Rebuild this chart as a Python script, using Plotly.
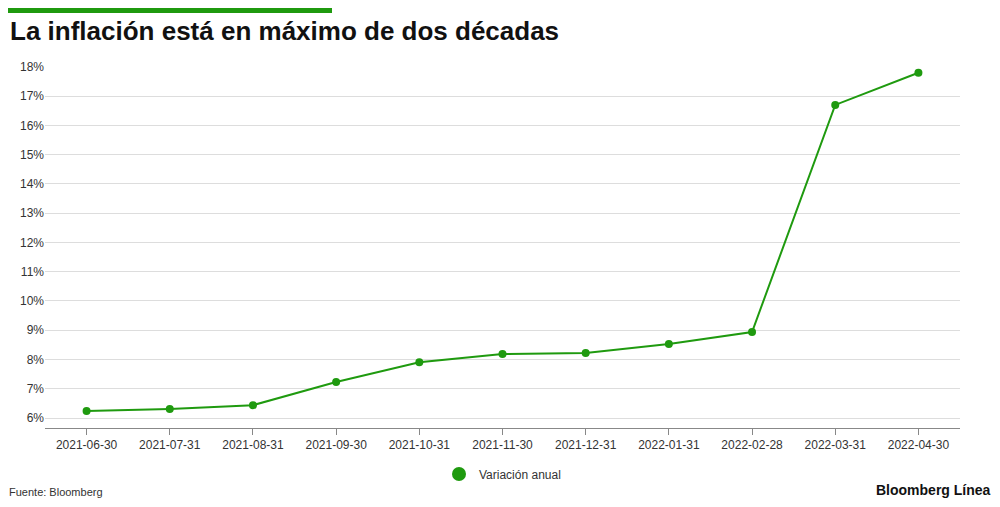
import plotly.graph_objects as go

dates = ["2021-06-30","2021-07-31","2021-08-31","2021-09-30","2021-10-31","2021-11-30",
         "2021-12-31","2022-01-31","2022-02-28","2022-03-31","2022-04-30"]
values = [6.24, 6.31, 6.44, 7.23, 7.91, 8.19, 8.22, 8.53, 8.94, 16.70, 17.80]
yticks = list(range(6, 19))
green = "#1f9a0f"

# the page places the figure at (8,8); figure is 984x491
W, H = 984, 491
L, T, PW, PH = 37, 58, 915, 362

def py(page_y):
    return (T + PH - (page_y - 8)) / PH

def px(page_x):
    return (page_x - 8 - L) / PW

fig = go.Figure()
fig.add_trace(go.Scatter(x=dates, y=values, mode="lines+markers", showlegend=False,
                         line=dict(color=green, width=2), marker=dict(color=green, size=8)))
fig.add_trace(go.Scatter(x=[None], y=[None], mode="markers", name="Variación anual",
                         marker=dict(color=green, size=14)))
fig.update_layout(
    width=W, height=H, margin=dict(l=L, r=W - L - PW, t=T, b=H - T - PH, autoexpand=False),
    paper_bgcolor="white", plot_bgcolor="white",
    font=dict(family="Liberation Sans, Arial", size=12, color="#333"),
    showlegend=True,
    legend=dict(orientation="h", x=0.5, xanchor="center", y=py(474), yanchor="middle", font=dict(size=12)),
    xaxis=dict(type="category", range=[-0.5, 10.5], showgrid=False, ticks="outside", ticklen=6,
               tickcolor="#888", showline=True, linecolor="#888", tickfont=dict(size=12), automargin=False),
    yaxis=dict(range=[5.66, 18.03], tickvals=yticks, ticktext=[f"{t}%" for t in yticks],
               gridcolor="#ddd", zeroline=False, tickfont=dict(size=12), automargin=False),
    shapes=[dict(type="rect", xref="paper", yref="paper", x0=px(8), x1=px(332),
                 y0=py(8), y1=py(13), fillcolor=green, line_width=0)],
    annotations=[
        dict(text="<b>La inflación está en máximo de dos décadas</b>", xref="paper", yref="paper",
             x=px(8), y=py(31), xanchor="left", yanchor="middle", showarrow=False,
             font=dict(size=26, color="#111", family="Liberation Sans, Arial")),
        dict(text="Fuente: Bloomberg", xref="paper", yref="paper", x=px(8), y=py(499),
             xanchor="left", yanchor="bottom", showarrow=False, borderpad=0,
             font=dict(size=11, color="#333")),
        dict(text="<b>Bloomberg Línea</b>", xref="paper", yref="paper", x=px(992), y=py(499),
             xanchor="right", yanchor="bottom", showarrow=False, borderpad=0,
             font=dict(size=14, color="#111")),
    ],
)
fig.write_html("out.html")
